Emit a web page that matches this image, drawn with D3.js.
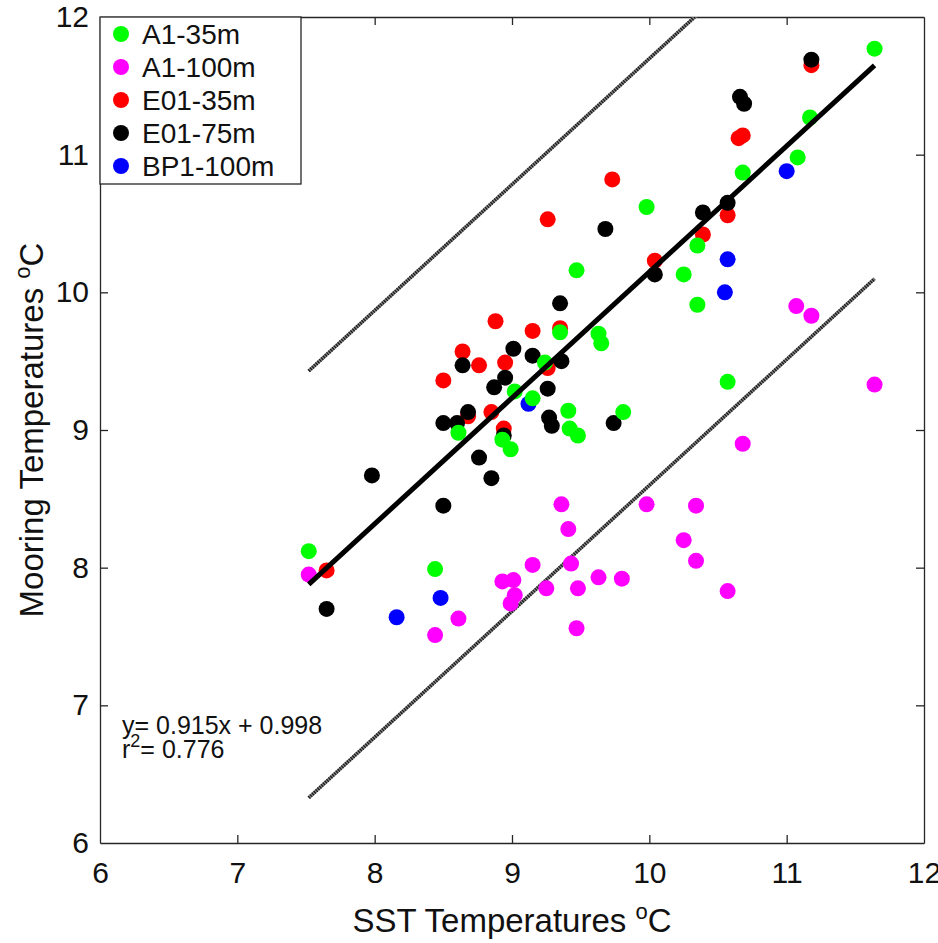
<!DOCTYPE html>
<html>
<head>
<meta charset="utf-8">
<script src="https://cdn.jsdelivr.net/npm/d3@7"></script>
<style>
  body { margin: 0; background: #fff; }
  svg text { font-family: "Liberation Sans", Arial, sans-serif; fill: #111; }
</style>
</head>
<body>
<svg id="chart" width="938" height="943"></svg>
<script>
// series: [SST, mooring] pairs
const seriesNames = ["A1-35m", "A1-100m", "E01-35m", "E01-75m", "BP1-100m"];
const seriesColors = ["#00ff00", "#ff00ff", "#ff0000", "#000000", "#0000ff"];

const a1_35 = [
  [7.52, 8.12], [8.44, 7.99], [8.61, 8.98], [8.93, 8.93], [8.99, 8.86],
  [9.02, 9.28], [9.15, 9.23], [9.24, 9.49], [9.35, 9.71], [9.41, 9.14],
  [9.42, 9.01], [9.48, 8.96], [9.47, 10.16], [9.63, 9.70], [9.65, 9.63],
  [9.81, 9.13], [9.98, 10.62], [10.25, 10.13], [10.35, 10.34], [10.35, 9.91],
  [10.57, 9.35], [10.68, 10.87], [11.08, 10.98], [11.17, 11.27], [11.64, 11.77]
];
const a1_100 = [
  [7.52, 7.95], [8.44, 7.51], [8.61, 7.63], [8.93, 7.90], [9.01, 7.91],
  [9.02, 7.80], [8.99, 7.74], [9.15, 8.02], [9.25, 7.85], [9.36, 8.46],
  [9.41, 8.28], [9.43, 8.03], [9.48, 7.85], [9.47, 7.56], [9.63, 7.93],
  [9.80, 7.92], [9.98, 8.46], [10.25, 8.20], [10.34, 8.45], [10.34, 8.05],
  [10.57, 7.83], [10.68, 8.90], [11.07, 9.90], [11.18, 9.83], [11.64, 9.33]
];
const e01_35 = [
  [7.65, 7.98], [8.50, 9.36], [8.64, 9.57], [8.68, 9.10], [8.76, 9.47],
  [8.85, 9.13], [8.88, 9.79], [8.94, 9.01], [8.95, 9.49], [9.15, 9.72],
  [9.26, 9.45], [9.26, 10.53], [9.35, 9.74], [9.73, 10.82], [10.04, 10.23],
  [10.39, 10.42], [10.57, 10.56], [10.65, 11.12], [10.68, 11.14], [11.18, 11.65]
];
const e01_75 = [
  [7.65, 7.70], [7.98, 8.67], [8.50, 8.45], [8.50, 9.05], [8.60, 9.05],
  [8.64, 9.47], [8.68, 9.13], [8.76, 8.80], [8.85, 8.65], [8.87, 9.31],
  [8.94, 8.96], [8.95, 9.38], [9.01, 9.59], [9.15, 9.54], [9.26, 9.30],
  [9.27, 9.09], [9.29, 9.03], [9.35, 9.92], [9.36, 9.50], [9.68, 10.46],
  [9.74, 9.05], [10.04, 10.13], [10.39, 10.58], [10.57, 10.65], [10.66, 11.42],
  [10.69, 11.37], [11.18, 11.69]
];
const bp1_100 = [
  [8.16, 7.64], [8.48, 7.78], [9.12, 9.19], [10.55, 10.00], [10.57, 10.24],
  [11.00, 10.88]
];

// fit
const fitSlope = 0.915;
const fitIntercept = 0.998;
const fitRange = [7.52, 11.64];
const bandOffset = 1.55;
const fitText = ["y= 0.915x + 0.998", "= 0.776"];

const xTicks = [6, 7, 8, 9, 10, 11, 12];
const yTicks = [6, 7, 8, 9, 10, 11, 12];

const svg = d3.select("#chart");
const box = { left: 100, right: 924, top: 17, bottom: 843 };
const axisColor = "#262626";

const x = d3.scaleLinear().domain([6, 12]).range([box.left, box.right]);
const y = d3.scaleLinear().domain([6, 12]).range([box.bottom, box.top]);

svg.append("defs").append("clipPath").attr("id", "plotclip")
  .append("rect")
  .attr("x", box.left).attr("y", box.top)
  .attr("width", box.right - box.left).attr("height", box.bottom - box.top);

// axes (MATLAB box style, ticks pointing in)
const styleAxis = (g) => {
  g.selectAll(".domain").attr("stroke", axisColor).attr("stroke-width", 1.3);
  g.selectAll(".tick line").attr("stroke", axisColor).attr("stroke-width", 1.3);
  g.selectAll(".tick text").style("font-size", "30px").attr("fill", "#111");
};
const fmt = d3.format("d");

svg.append("g")
  .attr("transform", `translate(0,${box.bottom})`)
  .call(d3.axisBottom(x).tickValues(xTicks).tickFormat(fmt).tickSizeInner(-8).tickSizeOuter(0).tickPadding(19))
  .call(styleAxis);
svg.append("g")
  .attr("transform", `translate(0,${box.top})`)
  .call(d3.axisTop(x).tickValues(xTicks).tickSizeInner(-8).tickSizeOuter(0).tickFormat(""))
  .call(styleAxis);
svg.append("g")
  .attr("transform", `translate(${box.left},0)`)
  .call(d3.axisLeft(y).tickValues(yTicks).tickFormat(fmt).tickSizeInner(-8).tickSizeOuter(0).tickPadding(11))
  .call(styleAxis);
svg.append("g")
  .attr("transform", `translate(${box.right},0)`)
  .call(d3.axisRight(y).tickValues(yTicks).tickSizeInner(-8).tickSizeOuter(0).tickFormat(""))
  .call(styleAxis);

// hide end ticks that sit on the box corners
svg.selectAll(".tick line").filter((d) => d === 6 || d === 12).remove();

const plot = svg.append("g").attr("clip-path", "url(#plotclip)");

// confidence band lines (hatched look)
const fitLine = (off) => fitRange.map((v) => [v, fitSlope * v + fitIntercept + off]);
const line = d3.line().x((d) => x(d[0])).y((d) => y(d[1]));
[bandOffset, -bandOffset].forEach((off) => {
  plot.append("path").attr("d", line(fitLine(off)))
    .attr("fill", "none").attr("stroke", "#8a8a8a").attr("stroke-width", 3.5);
  plot.append("path").attr("d", line(fitLine(off)))
    .attr("fill", "none").attr("stroke", "#1a1a1a").attr("stroke-width", 3.5)
    .attr("stroke-dasharray", "1.3,1.2");
});

// points, drawn so overlaps match the figure
const allSeries = [a1_35, a1_100, e01_35, e01_75, bp1_100];
const drawOrder = [4, 2, 3, 1, 0];
drawOrder.forEach((i) => {
  plot.append("g").selectAll("circle")
    .data(allSeries[i])
    .join("circle")
    .attr("cx", (d) => x(d[0]))
    .attr("cy", (d) => y(d[1]))
    .attr("r", 8)
    .attr("fill", seriesColors[i]);
});

// regression line
plot.append("path").attr("d", line(fitLine(0)))
  .attr("fill", "none").attr("stroke", "#000").attr("stroke-width", 5);

// fit text
const ft = svg.append("g").style("font-size", "25px");
ft.append("text").attr("x", 122).attr("y", 734).text(fitText[0]);
const r2 = ft.append("text").attr("x", 122).attr("y", 758);
r2.append("tspan").text("r");
r2.append("tspan").attr("dy", -11).style("font-size", "18px").text("2");
r2.append("tspan").attr("dy", 11).text(fitText[1]);

// legend
const legend = svg.append("g");
legend.append("rect")
  .attr("x", box.left).attr("y", box.top)
  .attr("width", 201).attr("height", 167)
  .attr("fill", "#fff").attr("stroke", axisColor).attr("stroke-width", 1.3);
const rowY = d3.scalePoint().domain(seriesNames).range([34, 166]);
seriesNames.forEach((name, i) => {
  legend.append("circle").attr("cx", 121).attr("cy", rowY(name)).attr("r", 8)
    .attr("fill", seriesColors[i]);
  legend.append("text").attr("x", 142).attr("y", rowY(name))
    .attr("dy", "0.36em").style("font-size", "28px").text(name);
});

// axis titles
const xt = svg.append("text").attr("x", (box.left + box.right) / 2).attr("y", 932)
  .attr("text-anchor", "middle").style("font-size", "33px");
xt.append("tspan").text("SST Temperatures ");
xt.append("tspan").attr("dy", -13).style("font-size", "22px").text("o");
xt.append("tspan").attr("dy", 13).text("C");

const yt = svg.append("text")
  .attr("transform", `translate(43,${(box.top + box.bottom) / 2}) rotate(-90)`)
  .attr("text-anchor", "middle").style("font-size", "33px");
yt.append("tspan").text("Mooring Temperatures ");
yt.append("tspan").attr("dy", -13).style("font-size", "22px").text("o");
yt.append("tspan").attr("dy", 13).text("C");
</script>
</body>
</html>
